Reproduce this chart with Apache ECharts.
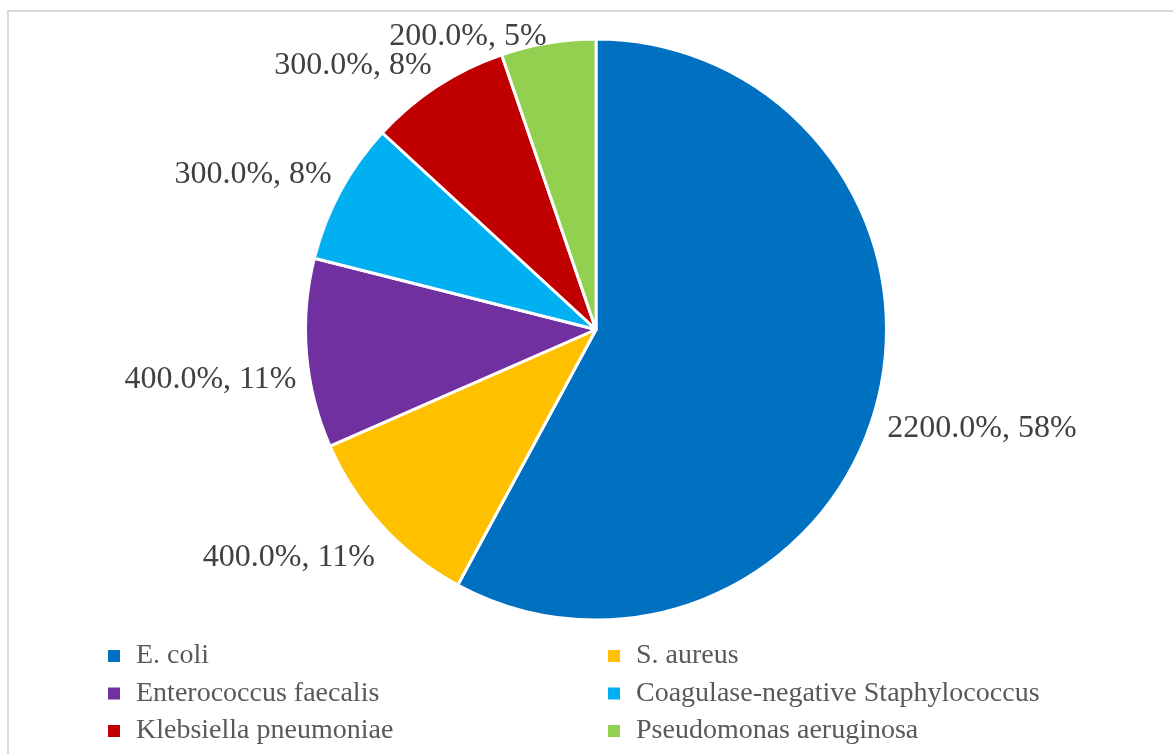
<!DOCTYPE html>
<html>
<head>
<meta charset="utf-8">
<script src="https://cdn.jsdelivr.net/npm/echarts@6/dist/echarts.min.js"></script>
<style>
html,body{margin:0;padding:0;background:#fff;}
#chart{width:1173px;height:754px;}
</style>
</head>
<body>
<div id="chart"></div>
<script>
// ---- data ----
const categories = ['E. coli', 'S. aureus', 'Enterococcus faecalis', 'Coagulase-negative Staphylococcus', 'Klebsiella pneumoniae', 'Pseudomonas aeruginosa'];
const values = [22, 4, 4, 3, 3, 2];
const colors = ['#0070C0', '#FFC000', '#7030A0', '#00B0F0', '#C00000', '#92D050'];
const legendLeft = ['E. coli', 'Enterococcus faecalis', 'Klebsiella pneumoniae'];
const legendRight = ['S. aureus', 'Coagulase-negative Staphylococcus', 'Pseudomonas aeruginosa'];

// ---- layout ----
const CX = 596, CY = 329.5, R = 290.5, GAP = 10, TOPLIMIT = 21;
const total = values.reduce((a, b) => a + b, 0);
const starts = [];
values.reduce((acc, v, i) => { starts[i] = acc; return acc + v; }, 0);

const chart = echarts.init(document.getElementById('chart'));
const font = '"Liberation Serif", "Times New Roman", serif';

const legendCommon = {
  orient: 'vertical',
  top: 641,
  height: 110,
  padding: 0,
  itemWidth: 14,
  itemHeight: 14,
  itemGap: 7.5,
  icon: 'rect',
  textStyle: { fontFamily: font, fontSize: 28, color: '#595959', lineHeight: 30, padding: [0, 0, 0, 10] },
  selectedMode: false
};

chart.setOption({
  animation: false,
  graphic: [{
    type: 'rect',
    shape: { x: 8, y: 11, width: 1180, height: 760 },
    style: { fill: 'none', stroke: '#d9d9d9', lineWidth: 2 },
    silent: true
  }],
  legend: [
    Object.assign({}, legendCommon, { left: 106, data: legendLeft }),
    Object.assign({}, legendCommon, { left: 606, data: legendRight })
  ],
  series: [{
    type: 'pie',
    center: [CX, CY],
    radius: [0, R],
    startAngle: 90,
    clockwise: true,
    avoidLabelOverlap: false,
    data: categories.map((c, i) => ({ name: c, value: values[i], itemStyle: { color: colors[i] } })),
    itemStyle: { borderColor: '#ffffff', borderWidth: 3 },
    label: {
      show: true,
      position: 'outside',
      fontFamily: font,
      fontSize: 32,
      color: '#404040',
      formatter: p => (p.value * 100).toFixed(1) + '%, ' + Math.round(p.value / total * 100) + '%'
    },
    labelLine: { show: false, length: 0, length2: 0 },
    labelLayout: function (params) {
      const i = params.dataIndex;
      const mid = (starts[i] + values[i] / 2) / total * Math.PI * 2;
      const dx = Math.sin(mid), dy = -Math.cos(mid);
      const x = CX + (R + GAP) * dx;
      let y = CY + (R + GAP) * dy;
      const vAlign = dy < 0 ? 'bottom' : 'top';
      y += vAlign === 'top' ? 9 : 4;
      const h = params.labelRect.height;
      if (vAlign === 'bottom' && y - h < TOPLIMIT) y = TOPLIMIT + h;
      return { x: x, y: y, align: dx < 0 ? 'right' : 'left', verticalAlign: vAlign };
    }
  }]
});
</script>
</body>
</html>
